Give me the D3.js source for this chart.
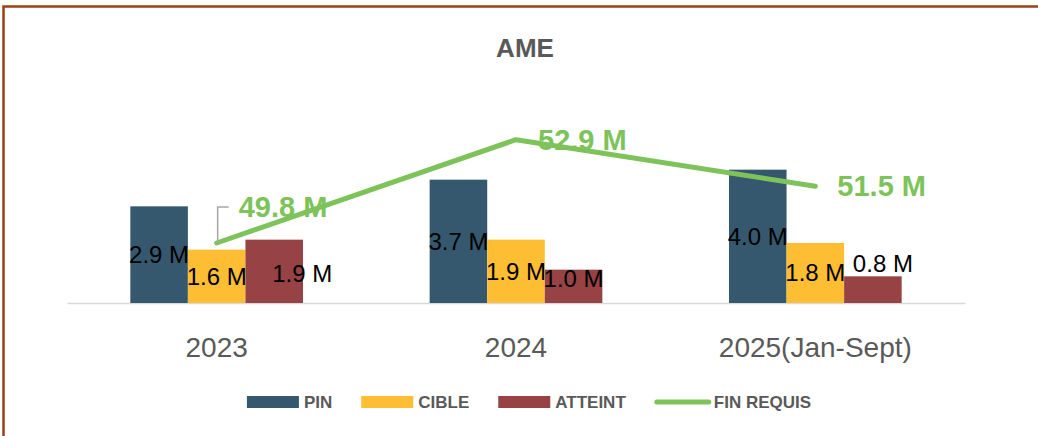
<!DOCTYPE html>
<html>
<head>
<meta charset="utf-8">
<script src="https://cdn.jsdelivr.net/npm/d3@7"></script>
<style>
  body { margin: 0; background: #fff; }
  svg { display: block; }
</style>
</head>
<body>
<script>
// data (millions)
const years = ["2023", "2024", "2025(Jan-Sept)"];
const series = ["PIN", "CIBLE", "ATTEINT"];
const pin = [2.9, 3.7, 4.0];
const cible = [1.6, 1.9, 1.8];
const atteint = [1.9, 1.0, 0.8];
const finRequis = [49.8, 52.9, 51.5];

const colors = { PIN: "#35586f", CIBLE: "#fdbe33", ATTEINT: "#974245", "FIN REQUIS": "#7dc35a" };

// hand placed labels in the original (pixel nudges)
const atteintNudge = [[28, 2], [0, -8], [10, -26]];
const finNudge = [-36, 0, 0];

const width = 1038, height = 436;
const marginLeft = 67, marginRight = 73, plotTop = 103, plotBottom = 303;
const grey = "#595959";

const svg = d3.select("body").append("svg")
    .attr("width", width)
    .attr("height", height)
    .attr("viewBox", [0, 0, width, height]);

// frame (top and left only are visible)
svg.append("path")
    .attr("d", `M3.5,${height} V6.5 H${width}`)
    .attr("fill", "none")
    .attr("stroke", "#9c4019")
    .attr("stroke-width", 2.5);

// title
svg.append("text")
    .attr("x", 525)
    .attr("y", 57)
    .attr("text-anchor", "middle")
    .attr("font-family", "Liberation Sans, Arial, sans-serif")
    .attr("font-weight", "bold")
    .attr("font-size", 26)
    .attr("fill", grey)
    .text("AME");

// scales
const x0 = d3.scaleBand()
    .domain(years)
    .range([marginLeft, width - marginRight]);

const x1 = d3.scaleBand()
    .domain(series)
    .range([0, x0.bandwidth()])
    .paddingInner(0)
    .paddingOuter(1.1);

const y = d3.scaleLinear().domain([0, 6]).range([plotBottom, plotTop]);
const y2 = d3.scaleLinear().domain([48, 54]).range([plotBottom, plotTop]);

const rows = years.map((yr, i) => ({
    year: yr,
    values: [
        { key: "PIN", v: pin[i] },
        { key: "CIBLE", v: cible[i] },
        { key: "ATTEINT", v: atteint[i] }
    ]
}));

// category axis
svg.append("g")
    .attr("transform", `translate(0,${plotBottom})`)
    .call(d3.axisBottom(x0).tickSize(0).tickSizeOuter(0).tickPadding(34))
    .call(g => g.select(".domain").attr("stroke", "#d9d9d9").attr("stroke-width", 1.5))
    .call(g => g.selectAll(".tick text")
        .attr("font-family", "Liberation Sans, Arial, sans-serif")
        .attr("font-size", 28)
        .attr("fill", grey));

// bars
const groups = svg.append("g").selectAll("g")
    .data(rows)
    .join("g")
    .attr("transform", d => `translate(${x0(d.year)},0)`);

groups.selectAll("rect")
    .data(d => d.values)
    .join("rect")
    .attr("x", d => x1(d.key))
    .attr("y", d => y(d.v))
    .attr("width", x1.bandwidth())
    .attr("height", d => y(0) - y(d.v))
    .attr("fill", d => colors[d.key]);

// bar labels, centred in the bar
groups.each(function(d, i) {
    d3.select(this).selectAll("text.val")
        .data(d.values)
        .join("text")
        .attr("class", "val")
        .attr("x", v => x1(v.key) + x1.bandwidth() / 2 + (v.key === "ATTEINT" ? atteintNudge[i][0] : 0))
        .attr("y", v => (y(v.v) + y(0)) / 2 + (v.key === "ATTEINT" ? atteintNudge[i][1] : 0))
        .attr("dy", "0.35em")
        .attr("text-anchor", "middle")
        .attr("font-family", "Liberation Sans, Arial, sans-serif")
        .attr("font-size", 24)
        .attr("fill", "#000")
        .text(v => v.v.toFixed(1) + " M");
});

// FIN REQUIS line on secondary axis
const pts = years.map((yr, i) => ({ x: x0(yr) + x0.bandwidth() / 2, y: y2(finRequis[i]), v: finRequis[i], i }));

svg.append("path")
    .datum(pts)
    .attr("fill", "none")
    .attr("stroke", colors["FIN REQUIS"])
    .attr("stroke-width", 5)
    .attr("stroke-linecap", "round")
    .attr("stroke-linejoin", "round")
    .attr("d", d3.line().x(d => d.x).y(d => d.y));

// leader line for the moved label
pts.filter(p => finNudge[p.i] !== 0).forEach(p => {
    svg.append("path")
        .attr("d", `M${p.x + 1},${p.y - 1} V${p.y + finNudge[p.i]} H${p.x + 12}`)
        .attr("fill", "none")
        .attr("stroke", "#a6a6a6")
        .attr("stroke-width", 1.5);
});

svg.append("g").selectAll("text")
    .data(pts)
    .join("text")
    .attr("x", d => d.x + 22)
    .attr("y", d => d.y + finNudge[d.i])
    .attr("dy", "0.35em")
    .attr("font-family", "Liberation Sans, Arial, sans-serif")
    .attr("font-weight", "bold")
    .attr("font-size", 29)
    .attr("fill", colors["FIN REQUIS"])
    .text(d => d.v.toFixed(1) + " M");

// legend
const legendItems = ["PIN", "CIBLE", "ATTEINT", "FIN REQUIS"];
const legend = svg.append("g");
let lx = 0;
legendItems.forEach((k, i) => {
    const item = legend.append("g").attr("transform", `translate(${lx},0)`);
    if (k === "FIN REQUIS") {
        item.append("line")
            .attr("x1", 2).attr("x2", 54)
            .attr("y1", 402).attr("y2", 402)
            .attr("stroke", colors[k])
            .attr("stroke-width", 5)
            .attr("stroke-linecap", "round");
    } else {
        item.append("rect")
            .attr("x", 0).attr("y", 396)
            .attr("width", 52).attr("height", 12)
            .attr("fill", colors[k]);
    }
    const t = item.append("text")
        .attr("x", k === "FIN REQUIS" ? 59 : 57)
        .attr("y", 408)
        .attr("font-family", "Liberation Sans, Arial, sans-serif")
        .attr("font-weight", "bold")
        .attr("font-size", 17)
        .attr("fill", grey)
        .text(k);
    lx += 57 + t.node().getComputedTextLength() + 29;
});
const lw = lx - 29;
legend.attr("transform", `translate(${528 - lw / 2},0)`);
</script>
</body>
</html>
